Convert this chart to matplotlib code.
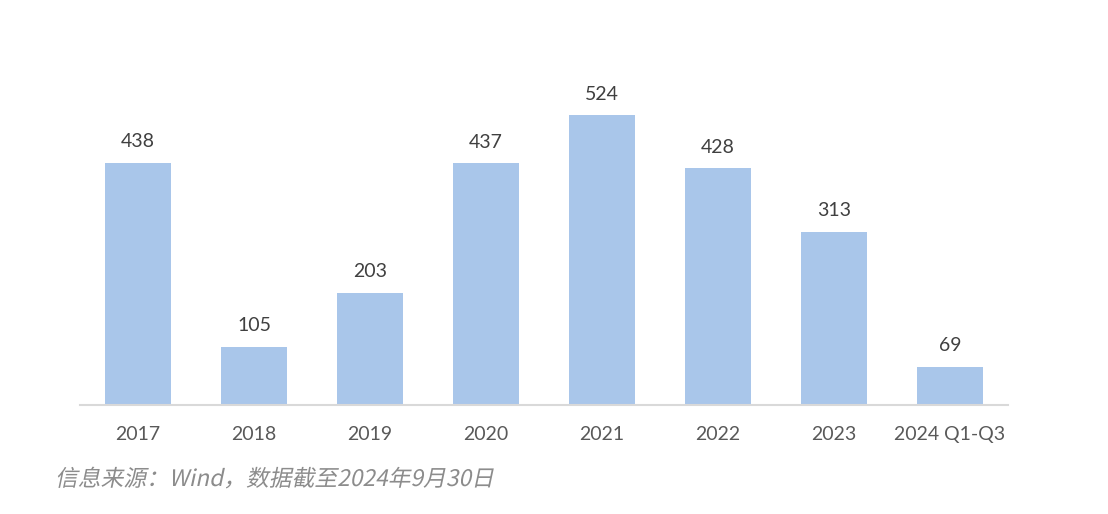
import matplotlib.pyplot as plt
from matplotlib.textpath import TextPath
from matplotlib.patches import PathPatch
from matplotlib.font_manager import FontProperties
from matplotlib.transforms import Affine2D

plt.rcParams['font.family'] = ['Lato', 'Noto Sans CJK SC', 'DejaVu Sans']

# Data
years = ['2017', '2018', '2019', '2020', '2021', '2022', '2023', '2024 Q1-Q3']
counts = [438, 105, 203, 437, 524, 428, 313, 69]
source_note = '信息来源：Wind，数据截至2024年9月30日'

fig = plt.figure(figsize=(11.08, 5.14), dpi=100)
ax = fig.add_axes([0.0722, 0.2121, 0.8375, 0.6459])

bars = ax.bar(range(len(years)), counts, width=0.57, color='#A9C6EA')
ax.bar_label(bars, padding=9, fontsize=14, color='#404040')

ax.set_xlim(-0.5, len(years) - 0.5)
ax.set_ylim(0, 600)
ax.set_xticks(range(len(years)))
ax.set_xticklabels(years, fontsize=14, color='#595959')
ax.tick_params(axis='x', length=0, pad=15)
ax.set_yticks([])

for s in ['top', 'right', 'left']:
    ax.spines[s].set_visible(False)
ax.spines['bottom'].set_color('#D9D9D9')
ax.spines['bottom'].set_linewidth(1.5)

# italic look for the CJK source note: skew the text outline
fp = FontProperties(family='Noto Sans CJK SC', size=16.4)
tp = TextPath((0, 0), source_note, prop=fp)
skew = (Affine2D().scale(100 / 72).skew_deg(12, 0)
        .translate(55, 514 - 486))
fig.add_artist(PathPatch(tp, transform=skew, facecolor='#8C8C8C',
                         edgecolor='none'))

fig.savefig('out.png', dpi=100)
